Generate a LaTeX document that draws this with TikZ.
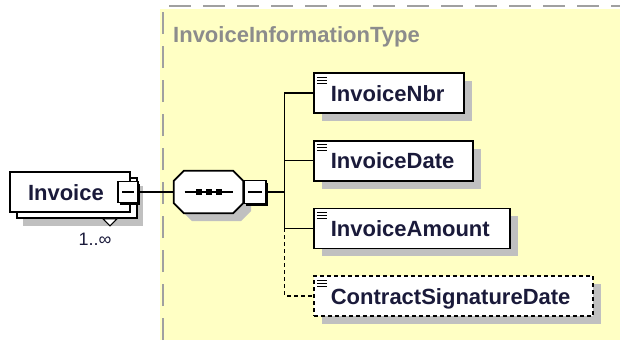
\documentclass[tikz,border=0pt]{standalone}
\usepackage{fontspec}
\setmainfont{Liberation Sans}
\usetikzlibrary{positioning,shadows}

\definecolor{typeyellow}{HTML}{FFFFC4}
\definecolor{typegray}{HTML}{8C8C8C}
\definecolor{bordergray}{HTML}{A0A0A0}
\definecolor{shadowgray}{HTML}{C0C0C0}
\definecolor{elemtext}{HTML}{1A1A3A}

\tikzset{
  elem/.style={draw, fill=white, line width=1.7pt, minimum height=40pt,
    inner xsep=17pt, inner ysep=0pt, align=left, text=elemtext,
    text height=16pt, text depth=0pt,
    font=\bfseries\fontsize{22}{26}\selectfont,
    general shadow={fill=shadowgray, shadow xshift=8pt, shadow yshift=-8pt},
    path picture={
      \foreach \dy in {4,7,10}
        \draw[solid, line width=1pt] ([xshift=3pt, yshift=-\dy pt]path picture bounding box.north west) -- ++(10,0);
    }},
  optelem/.style={elem, dash pattern=on 4pt off 3pt},
  rootelem/.style={draw, fill=white, line width=1.7pt, minimum height=40pt,
    inner xsep=18pt, inner ysep=0pt, align=left, text=elemtext,
    text height=16pt, text depth=0pt,
    font=\bfseries\fontsize{22}{26}\selectfont,
    general shadow={fill=shadowgray, shadow xshift=13pt, shadow yshift=-14pt},
    general shadow={draw=black, fill=white, shadow xshift=7pt, shadow yshift=-6pt}},
  collapse/.style={draw, fill=white, line width=1.5pt, inner sep=0pt,
    general shadow={fill=black, shadow xshift=2pt, shadow yshift=-2pt},
    path picture={
      \draw[line width=1.2pt] ([xshift=4pt]path picture bounding box.west) -- ([xshift=-4pt]path picture bounding box.east);
    }},
  seqbox/.style={minimum width=69pt, minimum height=42pt, inner sep=0pt},
  typelabel/.style={text=typegray, font=\bfseries\fontsize{22}{26}\selectfont, inner sep=0pt},
  multlabel/.style={text=elemtext, font=\fontsize{18}{20}\selectfont, inner sep=0pt},
  link/.style={line width=1.5pt},
}

\begin{document}
\begin{tikzpicture}[x=1pt, y=-1pt]
  \useasboundingbox (0,0) rectangle (620,340);

  % Complex type area
  \fill[typeyellow] (160,9) rectangle (620,340);
  \draw[bordergray, line width=2pt, dash pattern=on 22pt off 12pt] (163,340) -- (163,6) -- (620,6);
  \node (typename) [typelabel, anchor=west] at (173,37) {InvoiceInformationType};

  % Root element
  \node (invoice) [rootelem, text width=84pt] at (70,192) {Invoice};
  \draw[fill=white, line width=1pt] ([shift={(33,6)}]invoice.south) -- ++(14,0) -- ++(-7,7) -- cycle;
  \node (invmin) [collapse, minimum width=20pt, minimum height=21pt] at (128,192) {};
  \node (mult) [multlabel] at (95,239) {1..∞};

  % Sequence compositor: shadow, then the octagon
  \fill[shadowgray] (192,179) -- (241,179) -- (251,189) -- (251,211)
    -- (241,221) -- (192,221) -- (182,211) -- (182,189) -- cycle;
  \node (seq) [seqbox] at (208.5,192) {};
  \draw[fill=white, line width=1.7pt]
    ([xshift=10pt]seq.north west) -- ([xshift=-10pt]seq.north east)
    -- ([yshift=-10pt]seq.north east) -- ([yshift=10pt]seq.south east)
    -- ([xshift=-10pt]seq.south east) -- ([xshift=10pt]seq.south west)
    -- ([yshift=10pt]seq.south west) -- ([yshift=-10pt]seq.north west) -- cycle;
  \node (seqmin) [collapse, minimum width=22pt, minimum height=23pt, right=0pt of seq] {};
  \draw[link] ([xshift=-24pt]seq.center) -- ([xshift=24pt]seq.center);
  \foreach \dx in {-10,0,10}
    \fill ([xshift=\dx pt]seq.center) +(-3,-3) rectangle +(3,3);
  \coordinate[right=18pt of seqmin] (fork);

  % Child elements
  \node (nbr) [elem, text width=116pt, anchor=west] at (313,93) {InvoiceNbr};
  \node (date) [elem, text width=125pt, below=26pt of nbr.south west, anchor=north west] {InvoiceDate};
  \node (amount) [elem, text width=162pt, below=26pt of date.south west, anchor=north west] {InvoiceAmount};
  \node (sig) [optelem, text width=245pt, below=26pt of amount.south west, anchor=north west] {ContractSignatureDate};

  % Connectors
  \draw[link] (invmin) -- (seq);
  \draw[link] (seqmin) -- (fork);
  \draw[link] (nbr.west) -| (fork) |- (amount.west);
  \draw[link] (date.west) -- (date.west -| fork);
  \draw[link, dash pattern=on 4pt off 3pt] (amount.west -| fork) |- (sig.west);

\end{tikzpicture}
\end{document}
